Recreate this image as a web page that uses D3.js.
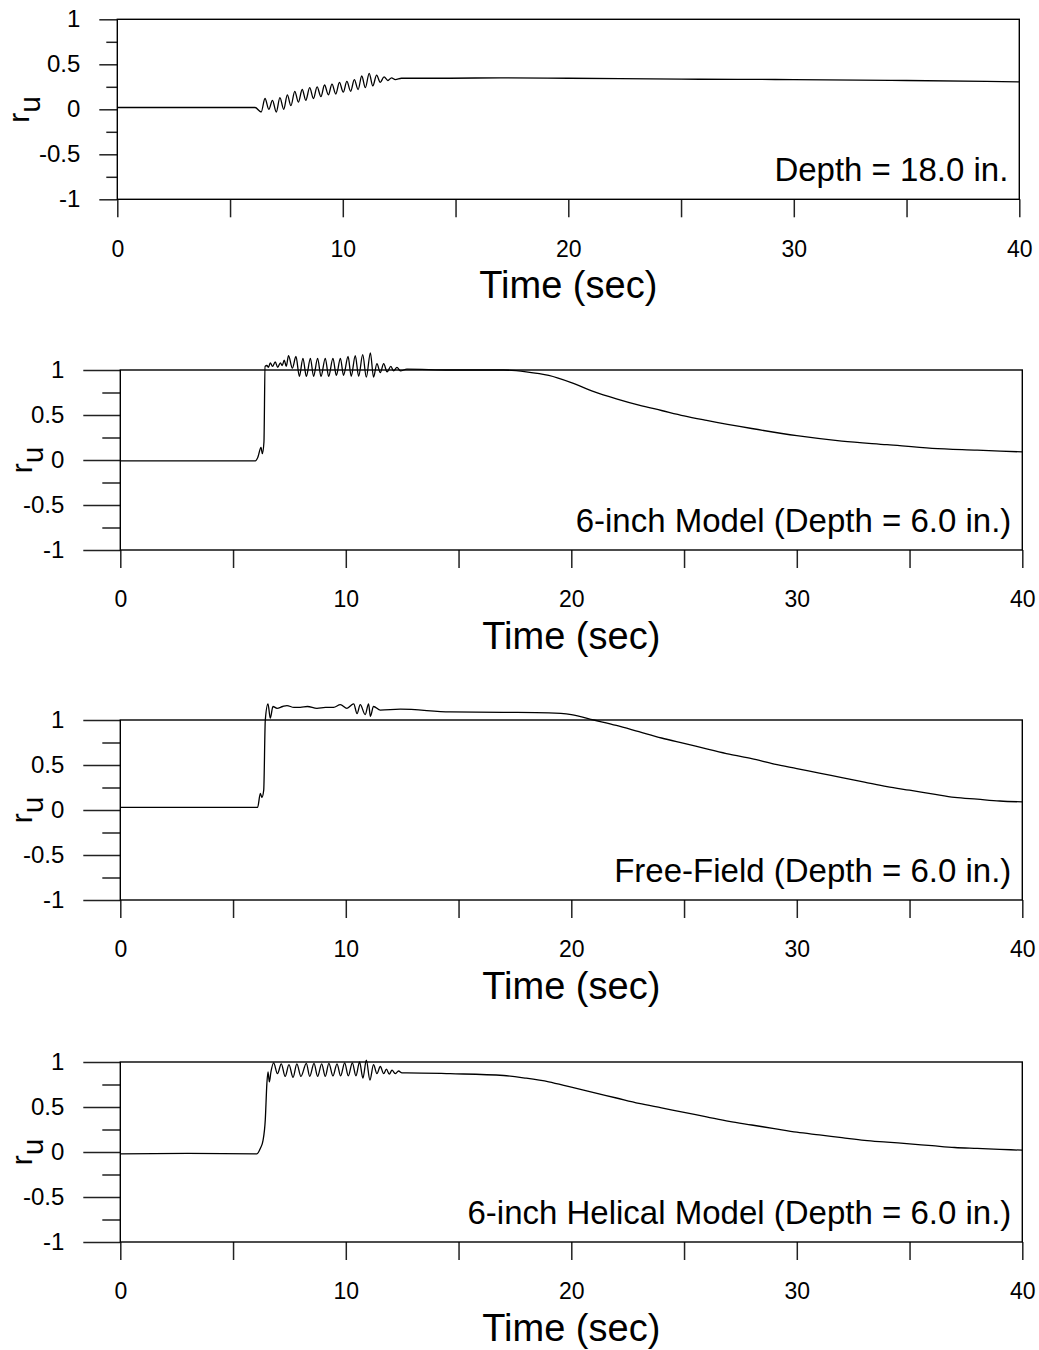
<!DOCTYPE html>
<html>
<head>
<meta charset="utf-8">
<script src="https://cdn.jsdelivr.net/npm/d3@7"></script>
<style>
  body { margin: 0; background: #fff; }
  svg text { font-family: "Liberation Sans", Arial, sans-serif; fill: #000; }
</style>
</head>
<body>
<div id="chart"></div>
<script>
// ticks
const xTickValues = [0, 5, 10, 15, 20, 25, 30, 35, 40];
const xTickLabels = ["0", "", "10", "", "20", "", "30", "", "40"];
const yMajorTicks = [-1, -0.5, 0, 0.5, 1];
const yMinorTicks = [-0.75, -0.25, 0.25, 0.75];

const panelTitles = [
  "Depth = 18.0 in.",
  "6-inch Model (Depth = 6.0 in.)",
  "Free-Field (Depth = 6.0 in.)",
  "6-inch Helical Model (Depth = 6.0 in.)"
];

// pore pressure ratio records, [time (sec), ru]
const ruDepth18 = [
  [0, 0.02], [3, 0.02], [6.11, 0.02], [6.38, -0.03], [6.55, 0.12], [6.72, 0.0], [6.88, 0.1],
  [7.05, -0.03], [7.21, 0.13], [7.38, 0.0], [7.54, 0.16], [7.7, 0.04], [7.87, 0.2], [8.03, 0.08],
  [8.2, 0.22], [8.36, 0.1], [8.53, 0.24], [8.7, 0.12], [8.86, 0.25], [9.03, 0.14], [9.19, 0.27],
  [9.36, 0.16], [9.52, 0.28], [9.69, 0.17], [9.85, 0.3], [10.02, 0.19], [10.18, 0.31], [10.35, 0.2],
  [10.51, 0.33], [10.68, 0.22], [10.84, 0.37], [11.0, 0.24], [11.17, 0.4], [11.33, 0.26], [11.5, 0.38],
  [11.66, 0.3], [11.83, 0.36], [12.0, 0.32], [12.16, 0.35], [12.33, 0.33], [12.6, 0.345],
  [14.75, 0.345], [17, 0.35], [20, 0.345], [25, 0.335], [30, 0.33], [35, 0.32], [40, 0.305]
];

const ruModel6 = [
  [0, -0.01], [3, -0.01], [5.99, -0.01], [6.1, 0.03], [6.24, 0.14], [6.3, 0.07], [6.37, 0.2],
  [6.42, 1.04], [6.5, 1.05], [6.57, 1.03], [6.65, 1.08], [6.75, 1.04], [6.87, 1.09], [6.98, 1.03],
  [7.1, 1.08], [7.18, 1.05], [7.27, 1.11], [7.36, 1.04], [7.46, 1.16], [7.63, 1.02], [7.79, 1.15],
  [7.94, 0.93], [8.1, 1.13], [8.25, 0.93], [8.43, 1.13], [8.57, 0.93], [8.75, 1.13], [8.9, 0.93],
  [9.09, 1.13], [9.24, 0.93], [9.43, 1.13], [9.58, 0.94], [9.76, 1.13], [9.9, 0.94], [10.1, 1.15],
  [10.24, 0.93], [10.42, 1.16], [10.57, 0.93], [10.75, 1.17], [10.91, 0.92], [11.09, 1.19],
  [11.23, 0.92], [11.38, 1.07], [11.53, 0.97], [11.68, 1.07], [11.83, 0.98], [12.0, 1.04],
  [12.12, 0.99], [12.27, 1.03], [12.42, 0.99], [12.71, 1.01], [14.63, 1.0], [17, 1.0], [18, 0.98],
  [19, 0.94], [20, 0.86], [21, 0.76], [22, 0.68], [23, 0.61], [24, 0.55], [25, 0.49], [26, 0.44],
  [28, 0.35], [30, 0.27], [32, 0.21], [34, 0.17], [36, 0.13], [38, 0.11], [40, 0.09]
];

const ruFreeField = [
  [0, 0.03], [3, 0.03], [6.09, 0.03], [6.21, 0.185], [6.28, 0.14], [6.36, 0.22], [6.43, 1.0],
  [6.55, 1.18], [6.65, 1.02], [6.77, 1.15], [6.95, 1.13], [7.2, 1.15], [7.39, 1.16], [7.7, 1.14],
  [7.98, 1.14], [8.3, 1.15], [8.72, 1.13], [9.1, 1.14], [9.46, 1.14], [9.76, 1.17], [10.05, 1.13],
  [10.35, 1.18], [10.5, 1.07], [10.64, 1.17], [10.86, 1.06], [11.01, 1.18], [11.09, 1.04],
  [11.23, 1.15], [11.53, 1.11], [12.42, 1.12], [14.63, 1.09], [17, 1.085], [19, 1.08], [20, 1.06],
  [21, 1.0], [22, 0.94], [23, 0.87], [24, 0.8], [25, 0.74], [26, 0.68], [27, 0.62], [28, 0.57],
  [29, 0.51], [30, 0.46], [31, 0.41], [32, 0.36], [33, 0.31], [34, 0.26], [35, 0.22], [36, 0.18],
  [37, 0.14], [38, 0.12], [39, 0.1], [40, 0.09]
];

const ruHelical6 = [
  [0, -0.02], [3, -0.015], [6.06, -0.02], [6.21, 0.04], [6.33, 0.13], [6.43, 0.36], [6.5, 0.76],
  [6.55, 0.89], [6.61, 0.78], [6.68, 0.89], [6.8, 0.99], [6.97, 0.87], [7.14, 0.98], [7.31, 0.84],
  [7.48, 0.97], [7.66, 0.83], [7.83, 0.98], [8.01, 0.84], [8.25, 0.985], [8.4, 0.84], [8.59, 0.985],
  [8.75, 0.84], [8.93, 0.98], [9.09, 0.84], [9.25, 0.985], [9.43, 0.845], [9.61, 0.98], [9.77, 0.845],
  [9.95, 0.99], [10.11, 0.845], [10.29, 0.99], [10.45, 0.845], [10.61, 1.0], [10.76, 0.82],
  [10.91, 1.02], [11.07, 0.8], [11.23, 0.97], [11.38, 0.87], [11.53, 0.95], [11.68, 0.87],
  [11.8, 0.92], [11.93, 0.865], [12.05, 0.91], [12.19, 0.87], [12.34, 0.9], [12.49, 0.88],
  [12.71, 0.88], [14.63, 0.87], [17, 0.85], [18, 0.82], [19, 0.78], [20, 0.72], [21, 0.66],
  [22, 0.6], [23, 0.54], [24, 0.49], [25, 0.44], [26, 0.39], [27, 0.34], [28, 0.3], [29, 0.26],
  [30, 0.22], [31, 0.19], [32, 0.16], [33, 0.13], [34, 0.11], [35, 0.09], [36, 0.07], [37, 0.05],
  [38, 0.04], [39, 0.03], [40, 0.02]
];

const panelSeries = [ruDepth18, ruModel6, ruFreeField, ruHelical6];

// layout of the four stacked plots
const panelLayout = [
  {left: 117.3, top: 19.3, majorTick: 18, minorTick: 11, labelX: 29},
  {left: 120.3, top: 370, majorTick: 37, minorTick: 18, labelX: 32},
  {left: 120.3, top: 720, majorTick: 37, minorTick: 18, labelX: 32},
  {left: 120.3, top: 1062, majorTick: 37, minorTick: 18, labelX: 32}
];

class RuPanel {
    width = 902;
    height = 180;

    constructor(svg, layout) {
        this.svg = svg;
        this.layout = layout;
    }

    render(data, title) {
        const L = this.layout;
        const g = this.svg.append("g")
            .attr("transform", "translate(" + L.left + "," + L.top + ")");

        const xScale = d3.scaleLinear().domain([0, 40]).range([0, this.width]);
        const yScale = d3.scaleLinear().domain([-1, 1]).range([this.height, 0]);

        // x axis ticks hanging below the frame
        const xAxisG = g.append("g")
            .attr("transform", "translate(0," + this.height + ")")
            .call(d3.axisBottom(xScale)
                .tickValues(xTickValues)
                .tickFormat((d, i) => xTickLabels[i])
                .tickSize(18).tickSizeOuter(0).tickPadding(23));
        xAxisG.select(".domain").remove();
        xAxisG.selectAll("text").style("font-size", "23px");

        // y axis: major + minor ticks outside the frame
        const yAxisG = g.append("g")
            .call(d3.axisLeft(yScale)
                .tickValues(yMajorTicks)
                .tickFormat(d => String(d))
                .tickSize(L.majorTick).tickSizeOuter(0).tickPadding(19));
        yAxisG.select(".domain").remove();
        yAxisG.selectAll("text").style("font-size", "24px");

        const yMinorG = g.append("g")
            .call(d3.axisLeft(yScale)
                .tickValues(yMinorTicks)
                .tickFormat("")
                .tickSize(L.minorTick).tickSizeOuter(0));
        yMinorG.select(".domain").remove();

        g.selectAll(".tick line")
            .attr("stroke", "#222")
            .attr("stroke-width", 1.5);

        g.append("rect")
            .attr("width", this.width)
            .attr("height", this.height)
            .attr("fill", "none")
            .attr("stroke", "#000")
            .attr("stroke-width", 1.4);

        const line = d3.line()
            .curve(d3.curveMonotoneX)
            .x(d => xScale(d[0]))
            .y(d => yScale(d[1]));

        g.append("path")
            .datum(data)
            .attr("d", line)
            .attr("fill", "none")
            .attr("stroke", "#000")
            .attr("stroke-width", 1.3)
            .attr("stroke-linejoin", "round");

        // labels
        g.append("text")
            .attr("x", this.width - 11)
            .attr("y", this.height - 18)
            .attr("text-anchor", "end")
            .style("font-size", "33px")
            .text(title);

        g.append("text")
            .attr("x", this.width / 2)
            .attr("y", this.height + 99)
            .attr("text-anchor", "middle")
            .style("font-size", "38px")
            .text("Time (sec)");

        const ruLabel = g.append("text")
            .attr("transform", "translate(" + (L.labelX - L.left) + "," + (this.height / 2) + ") rotate(-90)")
            .attr("text-anchor", "middle")
            .style("font-size", "30px");
        ruLabel.append("tspan").text("r");
        ruLabel.append("tspan").attr("dy", 11).text("u");
    }
}

const svg = d3.select("#chart").append("svg")
    .attr("width", 1039)
    .attr("height", 1350)
    .style("background", "#fff");

panelLayout.forEach((layout, i) => {
    new RuPanel(svg, layout).render(panelSeries[i], panelTitles[i]);
});
</script>
</body>
</html>
